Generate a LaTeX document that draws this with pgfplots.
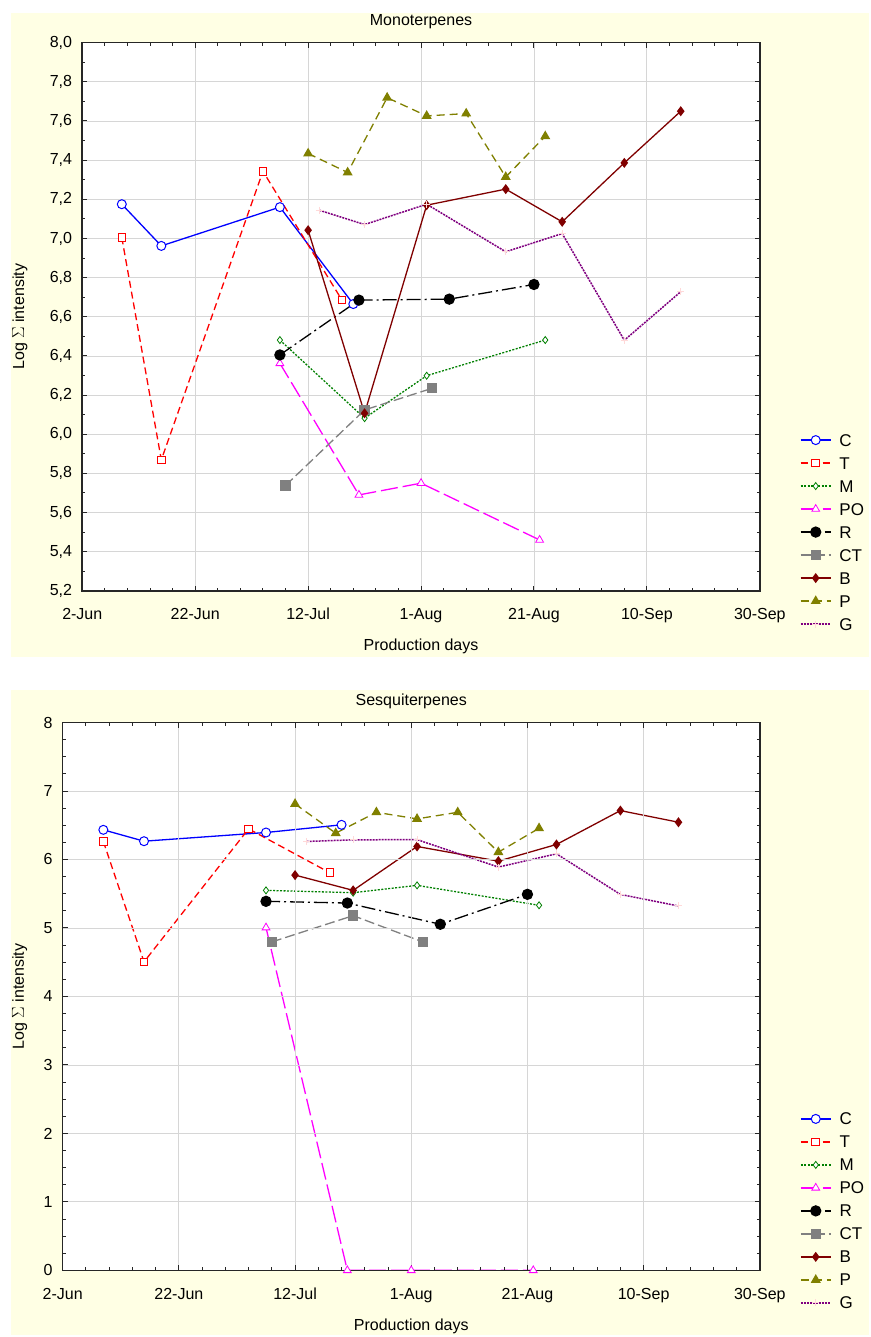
\documentclass[border=0pt]{standalone}
\usepackage{fontspec}
\setmainfont{Liberation Sans}
\usepackage{pgfplots}
\pgfplotsset{compat=1.18}

\definecolor{cream}{RGB}{255,255,228}
\definecolor{gridgray}{RGB}{214,214,214}
\definecolor{cGreen}{RGB}{0,128,0}
\definecolor{cMag}{RGB}{255,0,255}
\definecolor{cGray}{RGB}{128,128,128}
\definecolor{cBrown}{RGB}{128,0,0}
\definecolor{cOlive}{RGB}{128,128,0}
\definecolor{cPurp}{RGB}{128,0,128}

\pgfplotsset{
  statbox/.style={
    scale only axis,
    anchor=north west,
    font=\fontsize{16}{19}\selectfont,
    /pgf/number format/assume math mode=true,
    xmin=0, xmax=120,
    xtick={0,20,...,120},
    xticklabels={2-Jun,22-Jun,12-Jul,1-Aug,21-Aug,10-Sep,30-Sep},
    minor x tick num=4,
    tick align=inside,
    major tick length=5pt, minor tick length=3pt,
    grid=major,
    major grid style={line width=0.8pt, gridgray},
    axis line style={line width=1.6pt, black!85},
    every tick/.style={black!85, line width=1pt},
    axis background/.style={fill=white},
    xticklabel style={anchor=base, yshift=-29pt},
    yticklabel style={anchor=east, inner sep=0pt, xshift=-10pt},
    every axis title/.style={at={(0.5,1)}, anchor=base, yshift=16.7pt},
    every axis x label/.style={at={(0.5,0)}, anchor=base, yshift=-60pt},
    xlabel={Production days},
    ylabel={Log $\Sigma$ intensity},
    legend cell align=left,
    legend image code/.code={\draw[mark repeat=2,mark phase=2,##1] plot coordinates {(0pt,0pt)(15pt,0pt)(30pt,0pt)};},
    legend style={anchor=north west, draw=none, fill=none, inner sep=0pt,
      row sep=11pt, column sep=8pt, font=\fontsize{17}{20}\selectfont,
      nodes={inner sep=0pt, text height=12pt, text depth=0pt}},
  },
  sC/.style={blue, line width=1.3pt, mark=*, mark size=4.5pt, mark options={solid, fill=white, line width=1pt}},
  sT/.style={red, line width=1.3pt, dash pattern=on 7pt off 4pt, mark=square*, mark size=3.8pt, mark options={solid, fill=white, line width=1pt}},
  sM/.style={cGreen, line width=1.3pt, dash pattern=on 2pt off 1.5pt, mark=diamond*, mark size=3.5pt, mark options={solid, fill=white, line width=0.8pt}},
  sPO/.style={cMag, line width=1.3pt, dash pattern=on 17pt off 5pt, mark=triangle*, mark size=4.5pt, mark options={solid, fill=white, line width=0.8pt}},
  sR/.style={black, line width=1.3pt, dash pattern=on 14pt off 4pt on 2pt off 4pt, mark=*, mark size=5pt, mark options={solid}},
  sCT/.style={cGray, line width=1.3pt, dash pattern=on 10pt off 4pt, mark=square*, mark size=4.5pt, mark options={solid}},
  sB/.style={cBrown, line width=1.3pt, mark=diamond*, mark size=4pt, mark options={solid}},
  sP/.style={cOlive, line width=1.3pt, dash pattern=on 8pt off 5pt, mark=triangle*, mark size=4.5pt, mark options={solid}},
  sG/.style={cPurp, line width=1.5pt, dash pattern=on 2pt off 1pt, mark=+, mark size=3.5pt, mark options={solid, pink!60!white, line width=1pt}},
}

\begin{document}
\begin{tikzpicture}
\fill[white] (0pt,0pt) rectangle (871pt,-1337pt);
\fill[cream] (11pt,-13pt) rectangle (869pt,-657pt);
\fill[cream] (11pt,-690pt) rectangle (869pt,-1335pt);

% Monoterpenes
\begin{axis}[statbox,
  at={(82.3pt,-42.7pt)}, width=677.7pt, height=548.3pt,
  title={Monoterpenes},
  ymin=5.2, ymax=8.0, ytick={5.2,5.4,...,8.01}, minor y tick num=1,
  yticklabel style={/pgf/number format/.cd, fixed, fixed zerofill, precision=1, use comma},
  every axis y label/.style={at={(axis description cs:-0.086,0.5)}, rotate=90, anchor=base},
  legend style={at={(axis description cs:1.059,0.2863)}},
]
\addplot[sC] coordinates {(7,7.175)(14,6.962)(35,7.16)(48,6.665)};
\addlegendentry{C}
\addplot[sT] coordinates {(7,7.005)(14,5.869)(32,7.343)(46,6.685)};
\addlegendentry{T}
\addplot[sM] coordinates {(35,6.481)(50,6.082)(61,6.299)(82,6.481)};
\addlegendentry{M}
\addplot[sPO] coordinates {(35,6.362)(49,5.69)(60,5.75)(81,5.46)};
\addlegendentry{PO}
\addplot[sR] coordinates {(35,6.405)(49,6.685)(65,6.69)(80,6.765)};
\addlegendentry{R}
\addplot[sCT] coordinates {(36,5.738)(50,6.124)(62,6.235)};
\addlegendentry{CT}
\addplot[sB] coordinates {(40,7.042)(50,6.107)(61,7.17)(75,7.252)(85,7.085)(96,7.386)(106,7.65)};
\addlegendentry{B}
\addplot[sP] coordinates {(40,7.434)(47,7.337)(54,7.719)(61,7.626)(68,7.638)(75,7.314)(82,7.522)};
\addlegendentry{P}
\addplot[sG] coordinates {(42,7.144)(50,7.071)(61,7.175)(75,6.932)(85,7.025)(96,6.48)(106,6.728)};
\addlegendentry{G}
\end{axis}

% Sesquiterpenes
\begin{axis}[statbox,
  at={(62.7pt,-722.7pt)}, width=697.3pt, height=548pt,
  title={Sesquiterpenes},
  axis on top,
  ymin=0, ymax=8, ytick={0,1,...,8}, minor y tick num=3,
  every axis y label/.style={at={(axis description cs:-0.0555,0.5)}, rotate=90, anchor=base},
  legend style={at={(axis description cs:1.0574,0.2878)}},
]
\addplot[sC] coordinates {(7,6.433)(14,6.267)(35,6.394)(48,6.506)};
\addlegendentry{C}
\addplot[sT] coordinates {(7,6.263)(14,4.505)(32,6.447)(46,5.806)};
\addlegendentry{T}
\addplot[sM] coordinates {(35,5.549)(50,5.515)(61,5.622)(82,5.331)};
\addlegendentry{M}
\addplot[sPO] coordinates {(35,5.005)(49,0)(60,0)(81,0)};
\addlegendentry{PO}
\addplot[sR] coordinates {(35,5.389)(49,5.364)(65,5.054)(80,5.491)};
\addlegendentry{R}
\addplot[sCT] coordinates {(36,4.796)(50,5.18)(62,4.796)};
\addlegendentry{CT}
\addplot[sB] coordinates {(40,5.772)(50,5.549)(61,6.19)(75,5.976)(85,6.219)(96,6.714)(106,6.544)};
\addlegendentry{B}
\addplot[sP] coordinates {(40,6.811)(47,6.384)(54,6.689)(61,6.593)(68,6.689)(75,6.107)(82,6.456)};
\addlegendentry{P}
\addplot[sG] coordinates {(42,6.263)(50,6.287)(61,6.29)(75,5.889)(85,6.083)(96,5.49)(106,5.321)};
\addlegendentry{G}
\end{axis}
\end{tikzpicture}
\end{document}
